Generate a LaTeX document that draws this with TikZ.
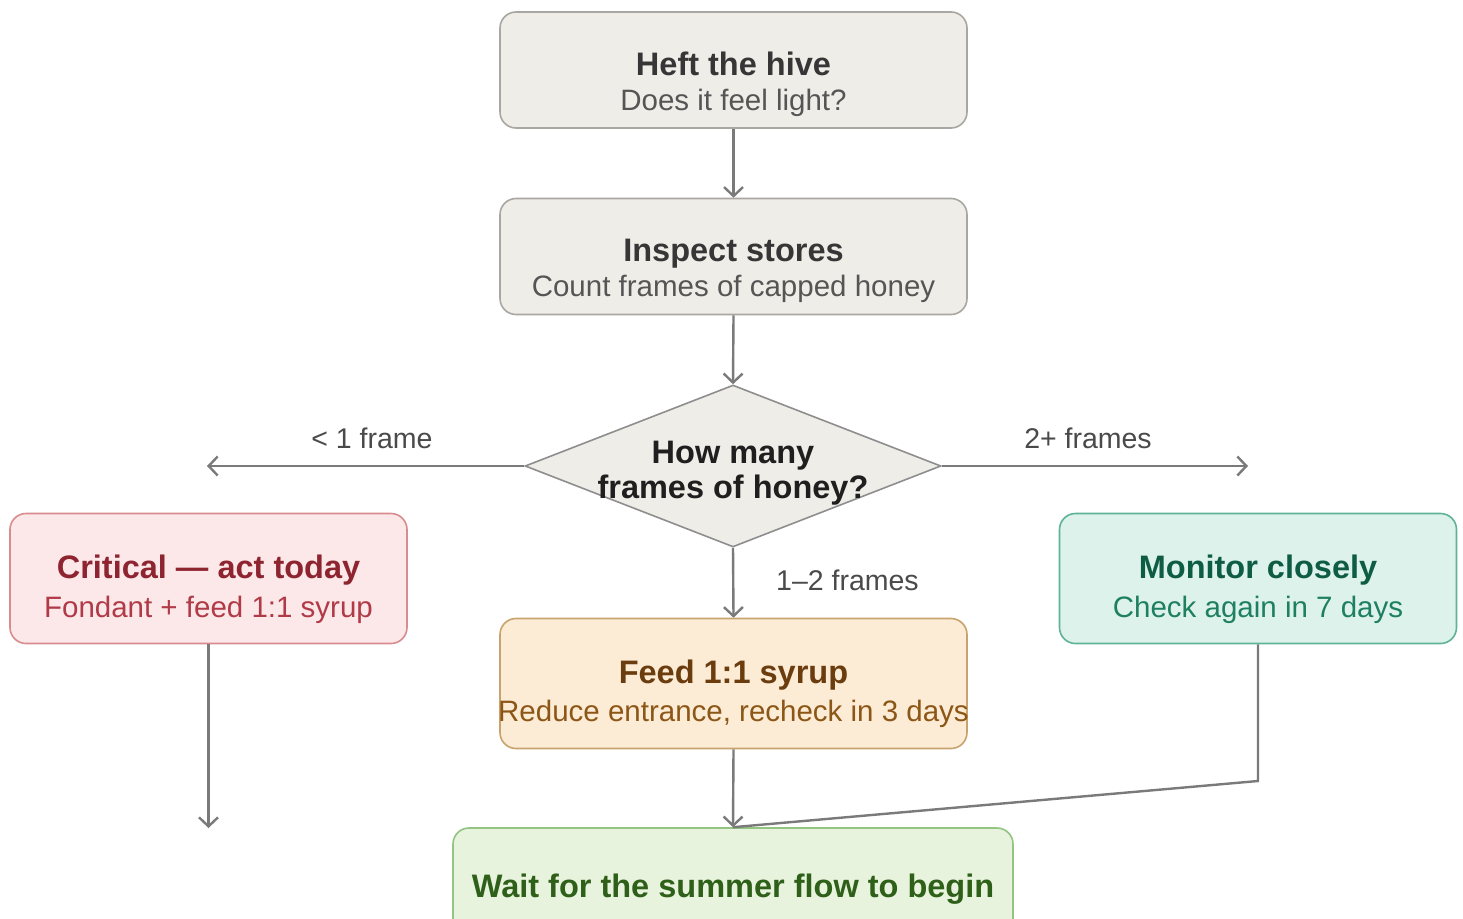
\documentclass[tikz,border=0pt]{standalone}
\usepackage{fontspec}
\setmainfont{Liberation Sans}
\usetikzlibrary{shapes.geometric,arrows.meta}
\definecolor{greyfill}{HTML}{EFEDE8}
\definecolor{greyline}{HTML}{A9A7A2}
\definecolor{greyttl}{HTML}{363636}
\definecolor{greysub}{HTML}{555555}
\definecolor{critfill}{HTML}{FCE8E8}
\definecolor{critline}{HTML}{D98C90}
\definecolor{critttl}{HTML}{8E2430}
\definecolor{critsub}{HTML}{B03A48}
\definecolor{monfill}{HTML}{DCF2EB}
\definecolor{monline}{HTML}{5FB397}
\definecolor{monttl}{HTML}{0E5C43}
\definecolor{monsub}{HTML}{1E8060}
\definecolor{feedfill}{HTML}{FCEBD5}
\definecolor{feedline}{HTML}{C9A36E}
\definecolor{feedttl}{HTML}{6A3C0E}
\definecolor{feedsub}{HTML}{8C5616}
\definecolor{waitfill}{HTML}{E8F3DD}
\definecolor{waitline}{HTML}{93C480}
\definecolor{waitttl}{HTML}{2E6019}
\definecolor{arrcol}{HTML}{7A7A7A}
\definecolor{lblcol}{HTML}{4A4A4A}
\tikzset{
  box/.style={rectangle, rounded corners=16pt, line width=1.6pt, inner sep=0pt},
  greybox/.style={box, fill=greyfill, draw=greyline, minimum width=467pt, minimum height=116pt},
  ttl/.style={inner sep=0pt, anchor=base, font=\fontsize{32.5}{38}\selectfont\bfseries},
  sub/.style={inner sep=0pt, anchor=base, font=\fontsize{29.5}{34}\selectfont},
  lbl/.style={inner sep=0pt, anchor=base, text=lblcol, font=\fontsize{28.5}{34}\selectfont},
  conn/.style={draw=arrcol, line width=2.4pt},
  arr/.style={conn, -{Straight Barb[length=9pt,width=19pt,line width=2.4pt]}},
}
\begin{document}
\begin{tikzpicture}[x=1pt,y=-1pt]
\useasboundingbox (0,0) rectangle (1463,918);
\clip (0,0) rectangle (1463,918);
\fill[white] (0,0) rectangle (1463,918);

% boxes
\node[greybox] (heft) at (733.5,70) {};
\node[ttl, text=greyttl] (heftT) at (733.5,75) {Heft the hive};
\node[sub, text=greysub] (heftS) at (733.5,110) {Does it feel light?};

\node[greybox] (insp) at (733.5,256.5) {};
\node[ttl, text=greyttl] (inspT) at (733.5,261) {Inspect stores};
\node[sub, text=greysub] (inspS) at (733.5,296) {Count frames of capped honey};

\node[diamond, draw=arrcol!85, fill=greyfill, line width=1.6pt, inner sep=0pt,
      minimum width=416pt, minimum height=162pt] (dia) at (733,466) {};
\node[ttl, text=black!88] (diaA) at (733,463) {How many};
\node[ttl, text=black!88] (diaB) at (733,498) {frames of honey?};

\node[box, fill=critfill, draw=critline, minimum width=397pt, minimum height=130pt] (crit) at (208.5,578.5) {};
\node[ttl, text=critttl] (critT) at (208.5,578) {Critical — act today};
\node[sub, text=critsub] (critS) at (208.5,617) {Fondant + feed 1:1 syrup};

\node[box, fill=monfill, draw=monline, minimum width=397pt, minimum height=130pt] (mon) at (1258,578.5) {};
\node[ttl, text=monttl] (monT) at (1258,578) {Monitor closely};
\node[sub, text=monsub] (monS) at (1258,617) {Check again in 7 days};

\node[box, fill=feedfill, draw=feedline, minimum width=467pt, minimum height=130pt] (feed) at (733.5,683.5) {};
\node[ttl, text=feedttl] (feedT) at (733.5,683) {Feed 1:1 syrup};
\node[sub, text=feedsub] (feedS) at (733.5,721) {Reduce entrance, recheck in 3 days};

\node[box, fill=waitfill, draw=waitline, minimum width=560pt, minimum height=140pt] (wait) at (733,898) {};
\node[ttl, text=waitttl] (waitT) at (733,897) {Wait for the summer flow to begin};

% connectors
\coordinate (leftEnd) at (207,466);
\coordinate (rightEnd) at (1248,466);
\coordinate (critEnd) at (208.5,828);
\coordinate (monBend) at (1258,781);

\draw[arr] (heft.south) -- (insp.north);
\draw[arr] (insp.south) -- (dia.north);
\draw[arr] (dia.west) -- (leftEnd);
\draw[arr] (dia.east) -- (rightEnd);
\draw[arr] (dia.south) -- (feed.north);
\draw[arr] (crit.south) -- (critEnd);
\draw[arr] (feed.south) -- (wait.north);
\draw[conn] (mon.south) -- (monBend) -- (wait.north);

% labels
\node[lbl] (lblL) at (372,448) {< 1 frame};
\node[lbl] (lblR) at (1088,448) {2+ frames};
\node[lbl, anchor=base west] (lblM) at (776,590) {1–2 frames};
\end{tikzpicture}
\end{document}
